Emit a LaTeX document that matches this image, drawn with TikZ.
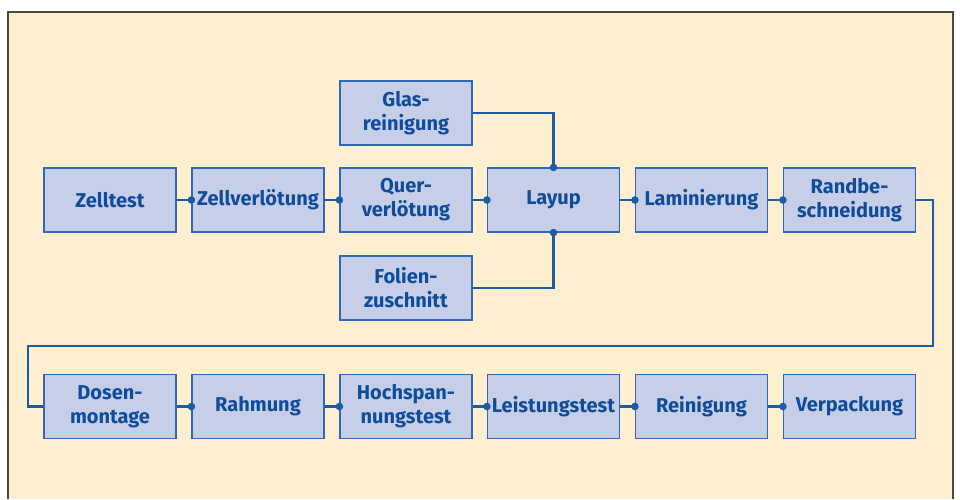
\documentclass[tikz,border=0pt]{standalone}
\usepackage{fontspec}
\setmainfont{Fira Sans}
\definecolor{hgrund}{HTML}{FFEFD1}
\definecolor{rahmen}{HTML}{4A4743}
\definecolor{kasten}{HTML}{C6CEE8}
\definecolor{kante}{HTML}{2F69B3}
\definecolor{linie}{HTML}{1A5CA8}
\definecolor{schrift}{HTML}{0F4C9A}
\begin{document}
\begin{tikzpicture}[x=1pt,y=-1pt,
	schritt/.style={draw=kante, fill=kasten, line width=1.2pt, minimum width=132pt, minimum height=64pt, inner sep=0pt, align=center, text=schrift, font=\fontsize{20}{24}\selectfont\bfseries},
	verb/.style={draw=linie, line width=2.6pt}]
		\useasboundingbox (0,0) rectangle (960,499);
		\fill[hgrund] (8,499) rectangle (953,12);
		\draw[rahmen, line width=2pt] (8,499) -- (8,12) -- (953,12) -- (953,499);
		
		% obere Reihe
		\node[schritt] (zt) at (110,200) {Zelltest};
		\node[schritt] (zv) at (258,200) {Zellverlötung};
		\node[schritt] (qv) at (406,200) {Quer-\\verlötung};
		\node[schritt] (lu) at (553.5,200) {Layup};
		\node[schritt] (lam) at (701.5,200) {Laminierung};
		\node[schritt] (rb) at (849.5,200) {Randbe-\\schneidung};
		\node[schritt] (gr) at (406,113) {Glas-\\reinigung};
		\node[schritt] (fz) at (406,288) {Folien-\\zuschnitt};
		
		% untere Reihe
		\node[schritt] (dm) at (110,406.5) {Dosen-\\montage};
		\node[schritt] (ra) at (258,406.5) {Rahmung};
		\node[schritt] (hs) at (406,406.5) {Hochspan-\\nungstest};
		\node[schritt] (lt) at (553.5,406.5) {Leistungstest};
		\node[schritt] (re) at (701.5,406.5) {Reinigung};
		\node[schritt] (vp) at (849.5,406.5) {Verpackung};
		
		% Verbindungen mit Punkt
		\foreach \a/\b in {zt/zv, zv/qv, qv/lu, lu/lam, lam/rb, dm/ra, ra/hs, hs/lt, lt/re, re/vp} {
			\draw[verb] (\a.east) -- (\b.west);
			\fill[linie] (\b.west) circle (3.8);
		}
		\draw[verb] (gr.east) -| (lu.north);
		\fill[linie] (lu.north) circle (3.8);
		\draw[verb] (fz.east) -| (lu.south);
		\fill[linie] (lu.south) circle (3.8);
		
		% Uebergang zur unteren Reihe
		\coordinate (r1) at (933,200);
		\coordinate (r2) at (28,346);
		\draw[verb] (rb.east) -- (r1) |- (r2) |- (dm.west);
	\end{tikzpicture}
\end{document}
